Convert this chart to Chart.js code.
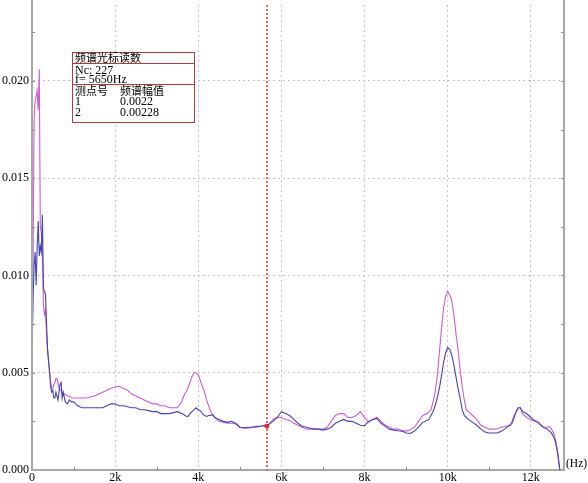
<!DOCTYPE html>
<html>
<head>
<meta charset="utf-8">
<script src="https://cdn.jsdelivr.net/npm/chart.js@4.4.1/dist/chart.umd.min.js"></script>
<style>
  html, body { margin: 0; padding: 0; background: #fff; }
  #wrap { position: relative; width: 588px; height: 483px; overflow: hidden; }
  canvas { position: absolute; left: 0; top: 0; }
  .box { position: absolute; left: 72px; top: 52px; width: 121px; height: 69px; border: 1px solid #b03c3c; background: #fff; }
  .hl { position: absolute; left: 72px; width: 122px; height: 0; border-top: 1px solid #b03c3c; }
  .t { position: absolute; font-family: "Liberation Serif", "Times New Roman", serif; font-size: 12px; line-height: 12px; color: #000; white-space: nowrap; }
  .c { font-family: "Noto Sans CJK SC", sans-serif; font-size: 11px; line-height: 11px; }
  .hz { position: absolute; left: 566px; top: 457px; font-family: "Liberation Serif", serif; font-size: 11.5px; line-height: 12px; color: #000; }
</style>
</head>
<body>
<div id="wrap">
  <canvas id="c" width="588" height="483"></canvas>
  <div class="box"></div>
  <div class="hl" style="top:63px"></div>
  <div class="hl" style="top:84px"></div>
  <div class="t c" style="left:75px; top:51.5px">频谱光标读数</div>
  <div class="t" style="left:75px; top:63.5px">Nc: 227</div>
  <div class="t" style="left:75px; top:73px">f= 5650Hz</div>
  <div class="t c" style="left:75px; top:85px">测点号</div>
  <div class="t c" style="left:120px; top:85px">频谱幅值</div>
  <div class="t" style="left:75px; top:95px">1</div>
  <div class="t" style="left:120px; top:95px">0.0022</div>
  <div class="t" style="left:75px; top:106px">2</div>
  <div class="t" style="left:120px; top:106px">0.00228</div>
  <div class="hz">(Hz)</div>
</div>
<script>
// Frequency (Hz)
const freq = [
  0,25,50,75,100,125,150,175,200,225,250,275,300,325,350,375,400,425,450,475,500,525,550,575,600,625,650,675,700,725,750,
  800,850,900,950,1000,
  1100,1200,1300,1400,1500,1600,1700,1800,1900,2000,2100,2200,2300,2400,2500,2600,2700,2800,2900,3000,3100,3200,3300,3400,3500,
  3600,3650,3700,3750,3800,3850,3900,3950,4000,4050,4100,4150,4200,4250,4300,4350,4400,4450,
  4500,4600,4700,4800,4900,5000,5100,5200,5300,5400,5500,5600,5700,5800,5900,6000,6100,6200,6300,6400,6500,6600,6700,6800,6900,7000,
  7100,7200,7300,7400,7500,7600,7700,7800,7900,8000,8100,8200,8300,8400,8500,8600,8700,8800,8900,9000,9100,9200,9300,9400,9500,
  9550,9600,9650,9700,9750,9800,9850,9900,9950,10000,10050,10100,10150,10200,10250,10300,10350,10400,10450,10500,
  10600,10700,10800,10900,11000,11100,11200,11300,11400,11500,
  11550,11600,11650,11700,11750,11800,11850,11900,11950,12000,12050,12100,12150,12200,12250,12300,12350,12400,12450,12500,12550,12600,12650,12700
];
// Measuring point 2 (magenta)
const point2 = [
  0.0056,0.0105,0.0180,0.0190,0.0192,0.0195,0.0185,0.0206,0.0125,0.0122,0.0113,0.0085,0.0080,0.0082,0.0070,0.0061,0.0055,0.0050,0.0045,0.0042,0.0042,0.0044,0.0045,0.0047,0.0047,0.0045,0.0042,0.0041,0.0041,0.0040,0.0039,
  0.0039,0.0038,0.0038,0.0037,0.0037,
  0.0037,0.0037,0.0037,0.00375,0.0038,0.0039,0.0040,0.0041,0.0042,0.00427,0.0043,0.0042,0.0041,0.0039,0.0038,0.0037,0.0036,0.0035,0.0034,0.0034,0.0033,0.0033,0.0032,0.0032,0.0032,
  0.0035,0.0038,0.0040,0.0042,0.0045,0.0048,0.0050,0.0050,0.0049,0.0046,0.0043,0.0040,0.0036,0.0033,0.0030,0.0028,0.0027,0.0026,
  0.0025,0.00245,0.0024,0.0024,0.00237,0.0022,0.00215,0.00215,0.0022,0.0022,0.00225,0.00228,0.00235,0.0026,0.0027,0.0027,0.0026,0.00255,0.0024,0.0023,0.0022,0.0021,0.0021,0.0021,0.0021,0.0021,
  0.0022,0.0025,0.0028,0.0029,0.0029,0.0027,0.0027,0.0028,0.0030,0.0027,0.00246,0.0026,0.0027,0.0025,0.0023,0.0022,0.0021,0.0021,0.00203,0.0020,0.00207,0.0022,0.0025,0.0028,0.0029,
  0.0030,0.0031,0.0035,0.0040,0.0048,0.0060,0.0072,0.0083,0.0089,0.0092,0.0090,0.0087,0.0080,0.0070,0.0062,0.0052,0.0043,0.0036,0.0031,0.0030,
  0.0028,0.0026,0.0023,0.0022,0.0021,0.0021,0.00212,0.0022,0.00225,0.0023,
  0.0025,0.0028,0.0030,0.0032,0.0032,0.0029,0.0028,0.0027,0.00265,0.0026,0.00255,0.0025,0.00245,0.0024,0.0023,0.0022,0.0022,0.0022,0.00224,0.0021,0.0019,0.0015,0.0009,0.0000
];
// Measuring point 1 (blue)
const point1 = [
  0.0056,0.0088,0.0105,0.0112,0.0095,0.0115,0.0128,0.0110,0.0115,0.0112,0.0131,0.0093,0.0092,0.0090,0.0075,0.0062,0.0056,0.0050,0.0043,0.0040,0.0041,0.0037,0.0037,0.0040,0.0038,0.0036,0.0040,0.0044,0.0045,0.0037,0.0040,
  0.0035,0.0034,0.0036,0.0035,0.0035,
  0.0033,0.0032,0.0032,0.0032,0.0032,0.0032,0.0032,0.0033,0.0034,0.0034,0.0033,0.0033,0.00325,0.0032,0.0032,0.0031,0.0031,0.00305,0.0030,0.0030,0.0029,0.0029,0.0029,0.00295,0.0030,
  0.0029,0.00285,0.00278,0.00275,0.0029,0.0030,0.0031,0.0032,0.0031,0.00305,0.0029,0.0028,0.00275,0.0028,0.0028,0.00285,0.0027,0.00265,
  0.0026,0.0025,0.00245,0.0025,0.0024,0.0022,0.00217,0.0022,0.0022,0.00224,0.00225,0.0023,0.00235,0.0025,0.0027,0.0030,0.0029,0.0028,0.0026,0.0024,0.00225,0.0022,0.00215,0.0021,0.0021,0.00205,
  0.0021,0.0022,0.0024,0.0025,0.0026,0.0025,0.0025,0.0024,0.0023,0.00228,0.0025,0.0026,0.00265,0.0024,0.00224,0.0021,0.00205,0.00202,0.0020,0.0019,0.00188,0.0020,0.0022,0.00245,0.00255,
  0.0026,0.0028,0.0030,0.0033,0.0037,0.0042,0.0048,0.0055,0.0060,0.0063,0.0062,0.0059,0.0054,0.0048,0.0042,0.0037,0.0031,0.0028,0.0027,0.0026,
  0.00245,0.0023,0.0021,0.00195,0.0019,0.0019,0.0019,0.0020,0.00215,0.0023,
  0.0024,0.0027,0.0030,0.0032,0.0032,0.0030,0.00295,0.0029,0.0028,0.0027,0.0026,0.00255,0.0025,0.0024,0.0023,0.0022,0.00215,0.0021,0.0020,0.0019,0.0017,0.0014,0.0008,0.0000
];
const xTicks = [0, 2000, 4000, 6000, 8000, 10000, 12000];
const yTicks = [0, 0.005, 0.010, 0.015, 0.020];
const cursorFreq = [5650];
const cursorValue = [0.00225];

const xMinor = [1000, 3000, 5000, 7000, 9000, 11000];
const yMinor = [0.0025, 0.0075, 0.0125, 0.0175, 0.0225, 0.005, 0.010, 0.015, 0.020];

const extras = {
  id: 'extras',
  afterDatasetsDraw(chart) {
    const { ctx, chartArea: a, scales: { x, y } } = chart;
    ctx.save();
    ctx.strokeStyle = '#a8a8a8';
    ctx.lineWidth = 2;
    ctx.beginPath();
    ctx.moveTo(a.right, 0); ctx.lineTo(a.right, a.bottom);
    ctx.moveTo(a.left, 0); ctx.lineTo(a.left, a.bottom);
    ctx.stroke();
    ctx.lineWidth = 1;
    ctx.strokeStyle = '#909090';
    ctx.beginPath();
    xMinor.forEach(v => { const px = Math.round(x.getPixelForValue(v)) + 0.5; ctx.moveTo(px, a.bottom); ctx.lineTo(px, a.bottom - 3); });
    yMinor.forEach(v => { const py = Math.round(y.getPixelForValue(v)) + 0.5;
      ctx.moveTo(a.left, py); ctx.lineTo(a.left + 3, py);
      ctx.moveTo(a.right, py); ctx.lineTo(a.right - 3, py); });
    ctx.stroke();
    ctx.restore();
    ctx.save();
    const cx = Math.round(x.getPixelForValue(cursorFreq[0]));
    ctx.lineWidth = 1.5;
    ctx.strokeStyle = '#e83232';
    ctx.setLineDash([2, 2]);
    ctx.beginPath(); ctx.moveTo(cx, a.top); ctx.lineTo(cx, a.bottom); ctx.stroke();
    ctx.restore();
  }
};

const gridStyle = { color: '#c4c4c4', lineWidth: 1, drawTicks: false };
const tickFont = { family: 'Liberation Serif', size: 12 };

new Chart(document.getElementById('c'), {
  type: 'line',
  data: {
    datasets: [
      { data: cursorFreq.map((f, i) => ({ x: f, y: cursorValue[i] })), showLine: false, pointRadius: 2, pointBackgroundColor: '#e02020', pointBorderColor: '#e02020', order: 0 },
      { data: freq.map((f, i) => ({ x: f, y: point1[i] })), borderColor: '#4444b4', borderWidth: 1.1, pointRadius: 0, tension: 0, order: 1 },
      { data: freq.map((f, i) => ({ x: f, y: point2[i] })), borderColor: '#d25ad6', borderWidth: 1.1, pointRadius: 0, tension: 0, order: 2 }
    ]
  },
  options: {
    responsive: false,
    animation: false,
    events: [],
    layout: { padding: { left: 0, right: 24, top: 0, bottom: 0 } },
    plugins: { legend: { display: false }, tooltip: { enabled: false } },
    scales: {
      x: {
        type: 'linear', min: 0, max: 12800,
        afterBuildTicks: s => { s.ticks = xTicks.map(v => ({ value: v })); },
        afterFit: s => { s.height = 13; s.paddingLeft = 0; s.paddingRight = 0; },
        ticks: { callback: v => v === 0 ? '0' : (v / 1000) + 'k', maxRotation: 0, autoSkip: false, padding: 1, font: tickFont, color: '#000' },
        grid: gridStyle,
        border: { display: true, color: '#a8a8a8', width: 2, dash: [2, 3] }
      },
      y: {
        type: 'linear', min: 0, max: 0.0239,
        afterBuildTicks: s => { s.ticks = yTicks.map(v => ({ value: v })); },
        afterFit: s => { s.width = 32; s.paddingTop = 0; s.paddingBottom = 0; },
        ticks: { callback: v => v.toFixed(3), padding: 3, font: tickFont, color: '#000' },
        grid: gridStyle,
        border: { display: true, color: '#a8a8a8', width: 2, dash: [2, 3] }
      }
    }
  },
  plugins: [extras]
});
</script>
</body>
</html>
